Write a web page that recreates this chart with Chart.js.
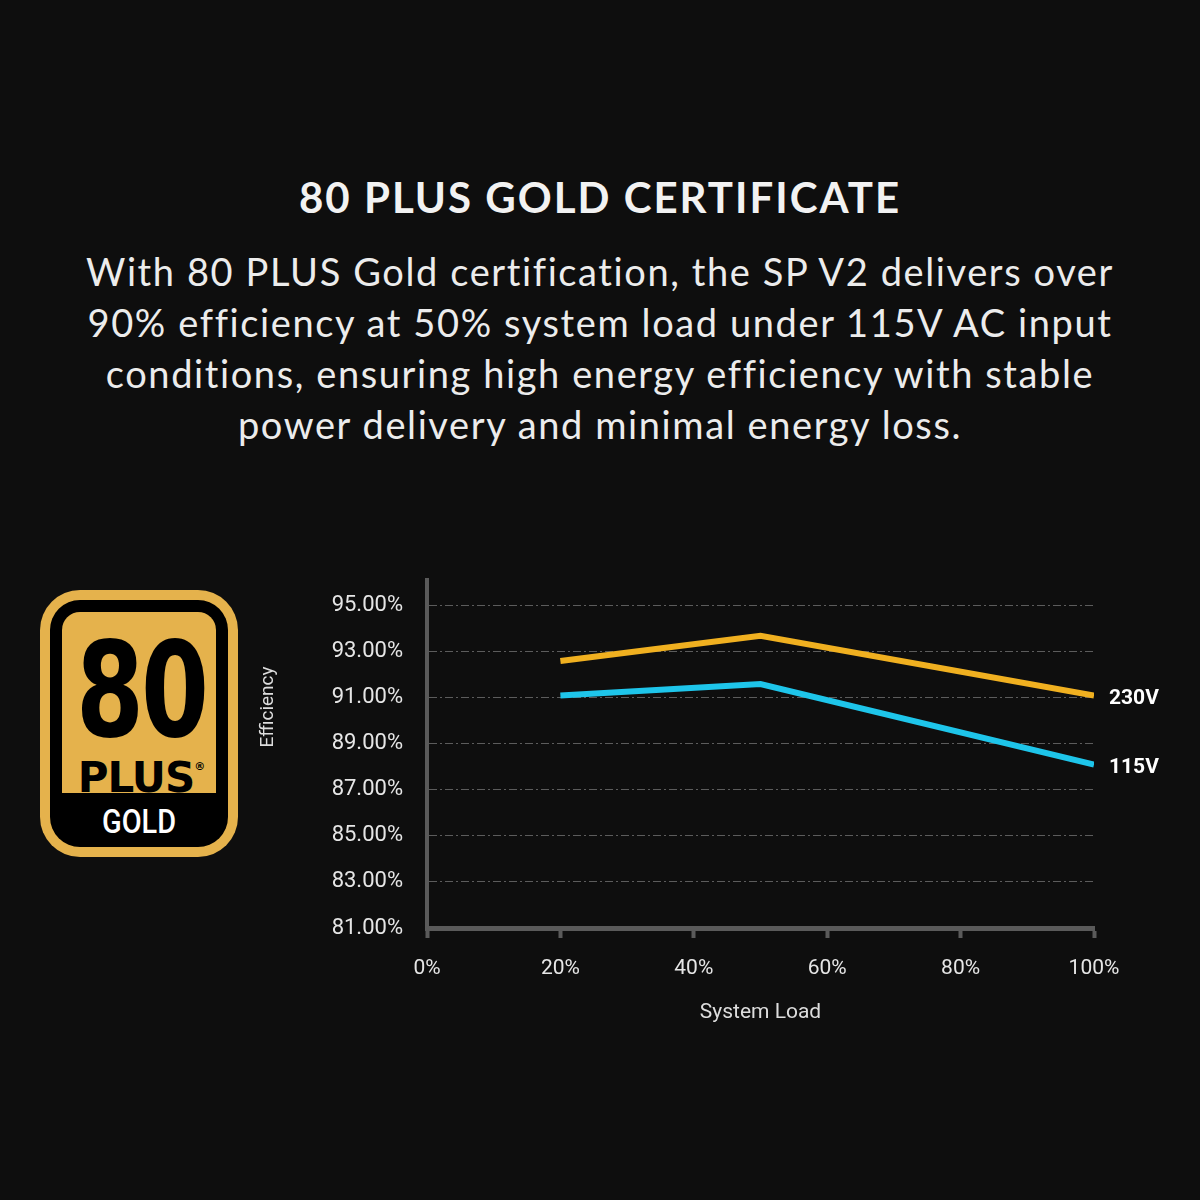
<!DOCTYPE html>
<html>
<head>
<meta charset="utf-8">
<script src="https://cdn.jsdelivr.net/npm/chart.js@4"></script>
<style>
  html, body { margin: 0; padding: 0; background: #0e0e0e; }
  body { width: 1200px; height: 1200px; position: relative; overflow: hidden; }
  .title { position: absolute; top: 172px; left: 0; width: 1200px; text-align: center;
    font-family: Lato, "Noto Sans", sans-serif; font-weight: 700; font-size: 42px;
    letter-spacing: 2px; color: #f2f2f2; }
  .desc { position: absolute; top: 246px; left: 0; width: 1200px; text-align: center;
    font-family: Lato, "Noto Sans", sans-serif; font-size: 38px; line-height: 51px;
    letter-spacing: 1.6px; color: #ececec; }
  .logo { position: absolute; left: 40px; top: 590px; width: 178px; height: 247px;
    background: #e5b24c; border-radius: 40px; padding: 10px; }
  .logo .in { background: #000; border-radius: 30px; width: 154px; height: 223px; padding: 12px; position: relative; }
  .logo .gold { background: #e5b24c; border-radius: 18px 18px 0 0; height: 181px; position: relative; text-align: center; }
  .logo .eighty { position: absolute; left: -6px; width: 100%; top: 12px; font-family: "DejaVu Sans", sans-serif;
    font-weight: 700; font-size: 132px; line-height: 132px; color: #000; transform: scaleX(0.74); letter-spacing: -4px; }
  .logo .plus { position: absolute; left: 2px; width: 100%; top: 134px; font-family: "DejaVu Sans", sans-serif;
    font-weight: 700; font-size: 42px; line-height: 42px; color: #000; letter-spacing: -1px; }
  .logo .plus sup { font-size: 11px; vertical-align: 22px; }
  .logo .gtxt { position: absolute; left: 0; width: 100%; top: 204px; text-align: center;
    font-family: Roboto, sans-serif; font-weight: 500; font-size: 34px; line-height: 34px; color: #fff; transform: scaleX(0.85); }
  #wrap { position: absolute; left: 0; top: 542px; width: 1200px; height: 520px; }
</style>
</head>
<body>
<div class="title">80 PLUS GOLD CERTIFICATE</div>
<div class="desc">With 80 PLUS Gold certification, the SP V2 delivers over<br>90% efficiency at 50% system load under 115V AC input<br>conditions, ensuring high energy efficiency with stable<br>power delivery and minimal energy loss.</div>
<div class="logo"><div class="in">
  <div class="gold"><div class="eighty">80</div><div class="plus">PLUS<sup>®</sup></div></div>
  <div class="gtxt">GOLD</div>
</div></div>
<div id="wrap"><canvas id="myChart"></canvas></div>
<script>
const loadPoints = [20, 50, 100];
const eff230 = [92.6, 93.7, 91.1];
const eff115 = [91.1, 91.6, 88.1];
const seriesNames = ["230V", "115V"];
const seriesColors = ["#f0b020", "#1ec5ea"];
const yTicks = [81, 83, 85, 87, 89, 91, 93, 95];
const xTicks = [0, 20, 40, 60, 80, 100];

const labelFont = "Roboto, 'DejaVu Sans', sans-serif";

const toPoints = (vals) => loadPoints.map((x, i) => ({ x: x, y: vals[i] }));

// draws the rotated y title and the series names at the line ends
const extraLabels = {
  id: "extraLabels",
  afterDraw: (chart) => {
    const ctx = chart.ctx;
    ctx.save();
    ctx.fillStyle = "#ffffff";
    ctx.font = "bold 21px " + labelFont;
    ctx.textBaseline = "middle";
    chart.data.datasets.forEach((ds, i) => {
      const meta = chart.getDatasetMeta(i);
      const last = meta.data[meta.data.length - 1];
      ctx.fillText(seriesNames[i], last.x + 15, last.y + 3);
    });
    ctx.translate(268, 707 - 542);
    ctx.rotate(-Math.PI / 2);
    ctx.textAlign = "center";
    ctx.fillStyle = "#dddddd";
    ctx.font = "19px " + labelFont;
    ctx.fillText("Efficiency", 0, 0);
    ctx.restore();
  }
};

const ctx = document.getElementById("myChart").getContext("2d");
const myChart = new Chart(ctx, {
  type: "line",
  data: {
    datasets: [
      { label: seriesNames[0], data: toPoints(eff230), borderColor: seriesColors[0], borderWidth: 6, pointRadius: 0, tension: 0 },
      { label: seriesNames[1], data: toPoints(eff115), borderColor: seriesColors[1], borderWidth: 6, pointRadius: 0, tension: 0 }
    ]
  },
  options: {
    responsive: true,
    maintainAspectRatio: false,
    animation: false,
    layout: { padding: { left: 0, top: 38, right: 106, bottom: 34 } },
    plugins: { legend: { display: false }, tooltip: { enabled: false } },
    scales: {
      x: {
        type: "linear",
        min: 0,
        max: 100,
        afterBuildTicks: (s) => { s.ticks = xTicks.map((v) => ({ value: v })); },
        afterFit: (s) => { s.height = 100; },
        grid: { drawOnChartArea: false, drawTicks: true, tickLength: 10, tickColor: "#5a5a5a", tickWidth: 4 },
        border: { color: "#5a5a5a", width: 5 },
        ticks: { color: "#e6e6e6", padding: 18, font: { family: labelFont, size: 21 }, callback: (v) => v + "%" },
        title: { display: true, text: "System Load", color: "#dddddd", font: { family: labelFont, size: 21 }, padding: { top: 0, bottom: 3 } }
      },
      y: {
        min: 81,
        max: 96.12,
        afterBuildTicks: (s) => { s.ticks = yTicks.map((v) => ({ value: v })); },
        afterFit: (s) => { s.width = 427; },
        grid: { color: "#5c5c5c", lineWidth: 1, drawTicks: false },
        border: { color: "#5a5a5a", width: 4, dash: [8, 3, 2, 3] },
        ticks: { color: "#e6e6e6", padding: 24, font: { family: labelFont, size: 22 }, callback: (v) => v.toFixed(2) + "%" }
      }
    }
  },
  plugins: [extraLabels]
});
</script>
</body>
</html>
